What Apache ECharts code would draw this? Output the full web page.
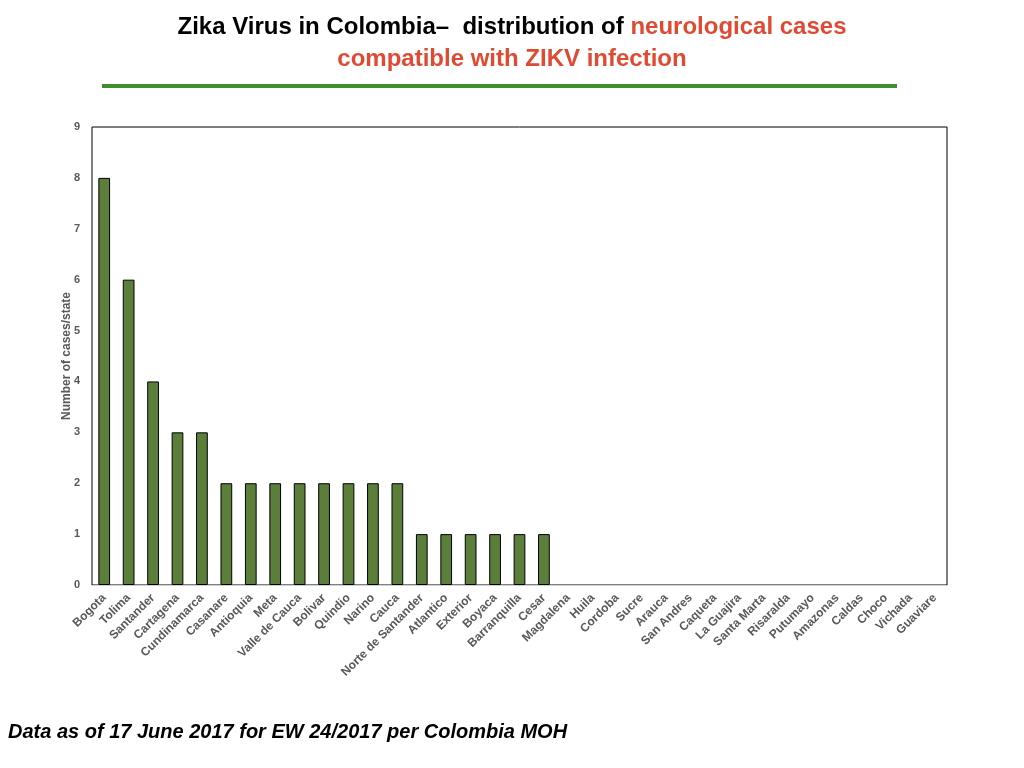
<!DOCTYPE html>
<html>
<head>
<meta charset="utf-8">
<script src="https://cdn.jsdelivr.net/npm/echarts@6/dist/echarts.min.js"></script>
<style>
  html, body { margin: 0; padding: 0; background: #fff; }
  #chart { width: 1024px; height: 768px; }
</style>
</head>
<body>
<div id="chart"></div>
<script>
// categories (states) and cases per state
var states = ['Bogota', 'Tolima', 'Santander', 'Cartagena', 'Cundinamarca', 'Casanare', 'Antioquia', 'Meta',
  'Valle de Cauca', 'Bolivar', 'Quindio', 'Narino', 'Cauca', 'Norte de Santander', 'Atlantico', 'Exterior',
  'Boyaca', 'Barranquilla', 'Cesar', 'Magdalena', 'Huila', 'Cordoba', 'Sucre', 'Arauca', 'San Andres',
  'Caqueta', 'La Guajira', 'Santa Marta', 'Risaralda', 'Putumayo', 'Amazonas', 'Caldas', 'Choco',
  'Vichada', 'Guaviare'];
var cases = [8, 6, 4, 3, 3, 2, 2, 2, 2, 2, 2, 2, 2, 1, 1, 1, 1, 1, 1, 0, 0, 0, 0, 0, 0, 0, 0, 0, 0, 0, 0, 0, 0, 0, 0];
var yTicks = [0, 1, 2, 3, 4, 5, 6, 7, 8, 9];

var myChart = echarts.init(document.getElementById('chart'));

// zero bars have no outline in the original
var barData = cases.map(function (v) {
  return v === 0 ? { value: v, itemStyle: { borderWidth: 0 } } : v;
});

var option = {
  backgroundColor: '#fff',
  animation: false,
  textStyle: { fontFamily: 'Liberation Sans, Arial, sans-serif' },
  title: {
    left: 'center',
    top: 6,
    text: '{b|Zika Virus in Colombia\u2013  distribution of }{r|neurological cases}\n{r|compatible with ZIKV infection}',
    textStyle: {
      rich: {
        b: { fontSize: 24, fontWeight: 'bold', color: '#000', lineHeight: 32, fontFamily: 'Liberation Sans' },
        r: { fontSize: 24, fontWeight: 'bold', color: '#e04a33', lineHeight: 32, fontFamily: 'Liberation Sans' }
      }
    }
  },
  grid: { left: 92, right: 77, top: 127, bottom: 183, show: true, borderColor: '#000', borderWidth: 1 },
  xAxis: {
    type: 'category',
    data: states,
    axisLine: { show: true, lineStyle: { color: '#d0d0d0', width: 1 } },
    axisTick: { show: false },
    axisLabel: {
      interval: 0, rotate: 45, margin: 11,
      color: '#595959', fontSize: 12, fontWeight: 'bold'
    }
  },
  yAxis: {
    type: 'value',
    min: 0, max: 9, interval: 1,
    name: 'Number of cases/state',
    nameLocation: 'middle',
    nameGap: 19,
    nameMoveOverlap: false,
    nameTextStyle: { color: '#595959', fontSize: 12, fontWeight: 'bold' },
    axisLine: { show: false },
    axisTick: { show: false },
    splitLine: { show: false },
    axisLabel: {
      color: '#595959', fontSize: 11, fontWeight: 'bold', margin: 12,
      formatter: function (v) { return yTicks.indexOf(v) >= 0 ? String(v) : ''; }
    }
  },
  series: [{
    type: 'bar',
    data: barData,
    barWidth: '48%',
    itemStyle: { color: '#5b7f3a', borderColor: '#000', borderWidth: 1 }
  }],
  graphic: [
    {
      type: 'line',
      shape: { x1: 102, y1: 86, x2: 897, y2: 86 },
      style: { stroke: '#3f8f2c', lineWidth: 4 }
    },
    {
      type: 'text',
      left: 8,
      top: 722,
      style: {
        text: 'Data as of 17 June 2017 for EW 24/2017 per Colombia MOH',
        fill: '#000',
        font: 'italic bold 20px "Liberation Sans", Arial, sans-serif'
      }
    }
  ]
};

myChart.setOption(option);
</script>
</body>
</html>
